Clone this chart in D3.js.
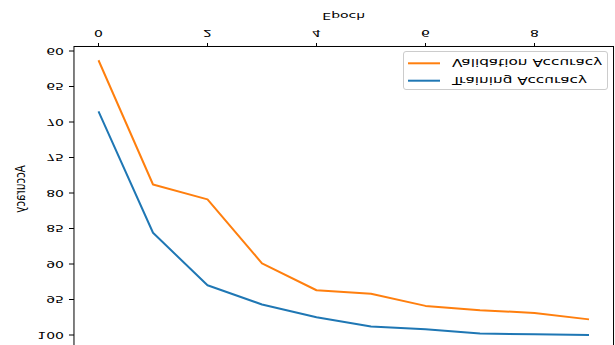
<!DOCTYPE html>
<html>
<head>
<meta charset="utf-8">
<script src="https://cdn.jsdelivr.net/npm/d3@7"></script>
<style>
  html, body { margin: 0; padding: 0; background: #fff; }
  svg { display: block; font-family: "DejaVu Sans", sans-serif; }
</style>
</head>
<body>
<svg id="chart" width="615" height="345"></svg>
<script>
// Chart values
const epochs = [0, 1, 2, 3, 4, 5, 6, 7, 8, 9];
const trainAcc = [68.5, 85.6, 93.0, 95.7, 97.5, 98.8, 99.2, 99.8, 99.9, 100.0];
const valAcc = [61.3, 78.8, 80.9, 89.9, 93.7, 94.2, 95.9, 96.5, 96.9, 97.8];
const xTicks = [0, 2, 4, 6, 8];
const yTicks = [60, 65, 70, 75, 80, 85, 90, 95, 100];
const seriesNames = ["Training Accuracy", "Validation Accuracy"];
const seriesColors = ["#1f77b4", "#ff7f0e"];

const W = 615, H = 345;
const FS = 14;      // horizontal font size
const SQ = 0.68;    // vertical squish of the glyphs

const svg = d3.select("#chart");
svg.append("rect").attr("width", W).attr("height", H).attr("fill", "#fff");

// The whole chart is drawn upside down, so draw normally and flip it
const g = svg.append("g").attr("transform", `translate(0,${H}) scale(1,-1)`);

// Scales (inner, unflipped coordinates)
const x = d3.scaleLinear().domain([0, 9]).range([98.5, 589]);
const y = d3.scaleLinear().domain([60, 100]).range([294, 10]);

// matplotlib style 5% margins
const allY = trainAcc.concat(valAcc);
const yLo = d3.min(allY), yHi = d3.max(allY);
const yPad = (yHi - yLo) * 0.05, xPad = (d3.max(epochs) - d3.min(epochs)) * 0.05;
const plotL = x(d3.min(epochs) - xPad), plotR = x(d3.max(epochs) + xPad);
const plotB = y(yLo - yPad), plotT = y(yHi + yPad);

function addText(parent, px, py, str, anchor, rotate, size, sq) {
    size = size || FS;
    sq = sq || SQ;
    const tr = rotate
        ? `translate(${px},${py}) rotate(-90) scale(${sq},1)`
        : `translate(${px},${py}) scale(1,${sq})`;
    return parent.append("text")
        .attr("transform", tr)
        .attr("text-anchor", anchor)
        .attr("font-size", size)
        .attr("fill", "#000")
        .text(str);
}

// Lines
const line = d3.line().x((d, i) => x(epochs[i])).y(d => y(d));
[trainAcc, valAcc].forEach((vals, k) => {
    g.append("path")
        .datum(vals)
        .attr("d", line)
        .attr("fill", "none")
        .attr("stroke", seriesColors[k])
        .attr("stroke-width", 2)
        .attr("stroke-linejoin", "round");
});

// Frame
g.append("rect")
    .attr("x", plotL).attr("y", plotT)
    .attr("width", plotR - plotL).attr("height", plotB - plotT)
    .attr("fill", "none").attr("stroke", "#000").attr("stroke-width", 1);

// X ticks (bottom of the unflipped chart)
xTicks.forEach(t => {
    g.append("line")
        .attr("x1", x(t)).attr("x2", x(t))
        .attr("y1", plotB).attr("y2", plotB + 3.5)
        .attr("stroke", "#000").attr("stroke-width", 1);
    addText(g, x(t), plotB + 16.5, t, "middle", false);
});
addText(g, (plotL + plotR) / 2, 332.3, "Epoch", "middle", false);

// Y ticks
yTicks.forEach(t => {
    g.append("line")
        .attr("x1", plotL - 5).attr("x2", plotL)
        .attr("y1", y(t)).attr("y2", y(t))
        .attr("stroke", "#000").attr("stroke-width", 1);
    addText(g, plotL - 10, y(t) + 3.5, t, "end", false);
});
addText(g, 25, 156, "Accuracy", "middle", true, 14.5, 0.72);

// Legend
const legend = g.append("g");
legend.append("rect")
    .attr("x", 403.5).attr("y", 255.5)
    .attr("width", 204).attr("height", 38)
    .attr("rx", 2.5)
    .attr("fill", "#fff").attr("fill-opacity", 0.8)
    .attr("stroke", "#cccccc").attr("stroke-width", 1);
const rowY = [264.3, 281.7];
seriesNames.forEach((name, k) => {
    legend.append("line")
        .attr("x1", 408).attr("x2", 440)
        .attr("y1", rowY[k]).attr("y2", rowY[k])
        .attr("stroke", seriesColors[k]).attr("stroke-width", 2);
    addText(legend, 452, rowY[k] + 4, name, "start", false, 15.3, 0.68);
});
</script>
</body>
</html>
